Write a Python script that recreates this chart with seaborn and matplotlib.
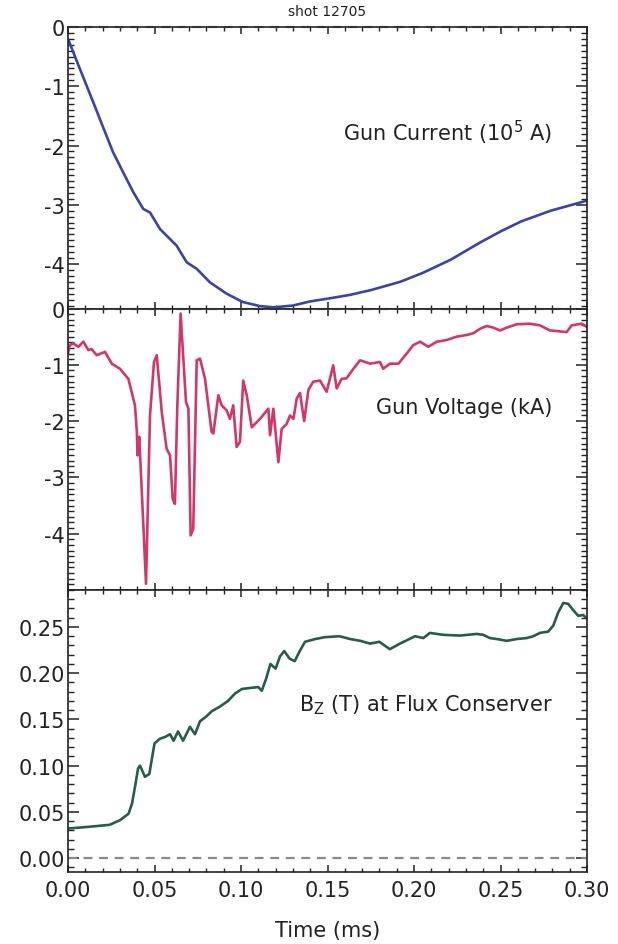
import matplotlib
matplotlib.use("Agg")
import matplotlib.pyplot as plt
from matplotlib.ticker import MultipleLocator, FixedLocator, FormatStrFormatter
import seaborn as sns

# ---- shot 12705 signals (time in ms) ----
current_t = [0.000, 0.005, 0.0146, 0.020, 0.026, 0.032, 0.0378, 0.0435, 0.0474,
             0.0532, 0.058, 0.0628, 0.0686, 0.0744, 0.0821, 0.0917, 0.101, 0.111,
             0.1187, 0.130, 0.140, 0.151, 0.163, 0.175, 0.192, 0.205, 0.221,
             0.238, 0.250, 0.262, 0.279, 0.300]
current_v = [-0.20, -0.57, -1.27, -1.67, -2.11, -2.46, -2.79, -3.07, -3.13,
             -3.41, -3.55, -3.69, -3.97, -4.08, -4.31, -4.50, -4.64, -4.71,
             -4.73, -4.70, -4.63, -4.58, -4.52, -4.44, -4.30, -4.15, -3.93,
             -3.64, -3.45, -3.28, -3.10, -2.93]

voltage_t = [0.0000, 0.0010, 0.0030, 0.0060, 0.0089, 0.0118, 0.0136, 0.0166,
             0.0214, 0.0253, 0.0300, 0.0349, 0.0387, 0.0398, 0.0402, 0.0412,
             0.0451, 0.0474, 0.0497, 0.0513, 0.0542, 0.0570, 0.0590, 0.0605,
             0.0618, 0.0632, 0.0651, 0.0682, 0.0696, 0.0709, 0.0724, 0.0744,
             0.0763, 0.0792, 0.0830, 0.0840, 0.0869, 0.0888, 0.0917, 0.0936,
             0.0955, 0.0975, 0.0994, 0.1013, 0.1033, 0.1062, 0.1091, 0.1110,
             0.1158, 0.1168, 0.1187, 0.1216, 0.1235, 0.1264, 0.1283, 0.1303,
             0.1322, 0.1341, 0.1365, 0.1390, 0.1418, 0.1457, 0.1495, 0.1533,
             0.1553, 0.1582, 0.1610, 0.1650, 0.1688, 0.1746, 0.1803, 0.1822,
             0.1861, 0.1910, 0.1958, 0.1996, 0.2035, 0.2083, 0.2131, 0.2189,
             0.2247, 0.2305, 0.2343, 0.2382, 0.2420, 0.2459, 0.2497, 0.2536,
             0.2594, 0.2670, 0.2728, 0.2786, 0.2825, 0.2882, 0.2911, 0.2969,
             0.3000]
voltage_v = [-0.80, -0.65, -0.62, -0.68, -0.59, -0.74, -0.72, -0.83,
             -0.77, -0.98, -1.07, -1.25, -1.72, -2.19, -2.61, -2.28,
             -4.89, -1.90, -0.95, -0.83, -1.84, -2.49, -2.61, -3.38,
             -3.47, -1.72, -0.09, -1.66, -1.78, -4.03, -3.91, -0.92,
             -0.89, -1.25, -2.19, -2.22, -1.54, -1.72, -1.81, -1.96,
             -1.72, -2.46, -2.37, -1.28, -1.54, -2.11, -2.02, -1.96,
             -1.78, -2.25, -1.78, -2.73, -2.14, -2.05, -1.90, -1.96,
             -1.60, -1.50, -2.00, -1.44, -1.30, -1.28, -1.48, -1.01,
             -1.42, -1.25, -1.24, -1.07, -0.92, -0.98, -0.95, -1.07,
             -0.98, -0.98, -0.80, -0.65, -0.59, -0.68, -0.59, -0.56,
             -0.50, -0.47, -0.44, -0.36, -0.31, -0.34, -0.39, -0.34,
             -0.28, -0.27, -0.30, -0.39, -0.40, -0.42, -0.30, -0.27,
             -0.33]

bz_t = [0.000, 0.0127, 0.024, 0.030, 0.035, 0.037, 0.039, 0.0405, 0.0416,
        0.0445, 0.047, 0.050, 0.053, 0.056, 0.059, 0.061, 0.0636, 0.0665,
        0.0705, 0.0734, 0.0763, 0.0798, 0.0832, 0.0879, 0.0925, 0.0965,
        0.1006, 0.105, 0.110, 0.112, 0.1145, 0.117, 0.120, 0.1225, 0.125,
        0.128, 0.131, 0.134, 0.137, 0.143, 0.1486, 0.157, 0.163, 0.169,
        0.1746, 0.180, 0.186, 0.1919, 0.2006, 0.2054, 0.2092, 0.2169,
        0.2266, 0.2362, 0.2400, 0.2439, 0.2478, 0.2536, 0.2594, 0.2651,
        0.2690, 0.2728, 0.2776, 0.2805, 0.2834, 0.2863, 0.2892, 0.2921,
        0.2950, 0.2978, 0.3000]
bz_v = [0.032, 0.034, 0.036, 0.041, 0.048, 0.059, 0.080, 0.097, 0.100,
        0.088, 0.091, 0.124, 0.129, 0.131, 0.134, 0.127, 0.137, 0.127,
        0.142, 0.134, 0.148, 0.153, 0.159, 0.164, 0.170, 0.178,
        0.183, 0.184, 0.185, 0.181, 0.194, 0.210, 0.205, 0.218, 0.224,
        0.216, 0.213, 0.224, 0.234, 0.237, 0.239, 0.240, 0.237, 0.235,
        0.232, 0.234, 0.226, 0.232, 0.240, 0.238, 0.2436, 0.2415,
        0.2407, 0.2425, 0.2415, 0.238, 0.237, 0.235, 0.237, 0.238,
        0.240, 0.2436, 0.245, 0.2515, 0.266, 0.276, 0.275, 0.268,
        0.262, 0.263, 0.259]

x_ticks = [0.00, 0.05, 0.10, 0.15, 0.20, 0.25, 0.30]
int_ticks = [0, -1, -2, -3, -4]
bz_ticks = [0.00, 0.05, 0.10, 0.15, 0.20, 0.25]

sns.set_style("ticks")
plt.rcParams["font.family"] = ["DejaVu Sans"]
plt.rcParams["axes.unicode_minus"] = False

W, H = 618, 945
fig = plt.figure(figsize=(W / 100, H / 100), dpi=100)

left, right = 68, 587
panels = [(28, 309.5), (309.5, 591), (591, 873)]


def make_axes(top, bottom):
    return fig.add_axes([left / W, 1 - bottom / H, (right - left) / W, (bottom - top) / H])


ax1 = make_axes(*panels[0])
ax2 = make_axes(*panels[1])
ax3 = make_axes(*panels[2])

blue = "#3b449f"
pink = "#d1386a"
green = "#275c48"
LW = 1.9

sns.lineplot(x=current_t, y=current_v, ax=ax1, color=blue, lw=LW,
             estimator=None, sort=False)
sns.lineplot(x=voltage_t, y=voltage_v, ax=ax2, color=pink, lw=LW,
             estimator=None, sort=False)
sns.lineplot(x=bz_t, y=bz_v, ax=ax3, color=green, lw=LW,
             estimator=None, sort=False)

for ax in (ax1, ax2, ax3):
    ax.axhline(0, color="#8a8a8a", lw=1.6, ls=(0, (4, 3)), zorder=1, clip_on=False)
    ax.set_xlim(0, 0.30)
    ax.xaxis.set_major_locator(FixedLocator(x_ticks))
    ax.xaxis.set_minor_locator(MultipleLocator(0.01))
    ax.tick_params(axis="both", which="both", direction="in",
                   top=True, bottom=True, left=True, right=True,
                   color="#222222", labelsize=15, labelcolor="#222222", pad=2)
    ax.tick_params(axis="x", which="major", length=5, width=1.1)
    ax.tick_params(axis="x", which="minor", length=3, width=1.0)
    ax.tick_params(axis="y", which="major", length=8, width=1.1)
    ax.tick_params(axis="y", which="minor", length=4, width=1.0)
    for s in ax.spines.values():
        s.set_linewidth(1.2)
        s.set_color("#222222")
    ax.set_xlabel("")
    ax.set_ylabel("")

ax1.set_ylim(-4.75, 0)
ax2.set_ylim(-5.0, 0)
for ax in (ax1, ax2):
    ax.yaxis.set_major_locator(FixedLocator(int_ticks))
    ax.yaxis.set_minor_locator(MultipleLocator(0.1))
    ax.yaxis.set_major_formatter(FormatStrFormatter("%d"))
    ax.tick_params(axis="x", labelbottom=False)

ax3.set_ylim(-0.015, 0.29)
ax3.yaxis.set_major_locator(FixedLocator(bz_ticks))
ax3.yaxis.set_minor_locator(MultipleLocator(0.01))
ax3.yaxis.set_major_formatter(FormatStrFormatter("%.2f"))
ax3.xaxis.set_major_formatter(FormatStrFormatter("%.2f"))
ax3.tick_params(axis="x", which="major", pad=6)

txt = dict(fontsize=15, color="#222222", ha="right", va="center")
ax1.text(0.28, -1.77, r"Gun Current (10$^{5}$ A)", **txt)
ax2.text(0.28, -1.75, "Gun Voltage (kA)", **txt)
ax3.text(0.28, 0.167, r"B$_\mathregular{Z}$ (T) at Flux Conserver", **txt)

ax3.set_xlabel("Time (ms)", fontsize=15, color="#222222", labelpad=14)
fig.text((left + right) / 2 / W, 1 - 12 / H, "shot 12705", ha="center",
         va="center", fontsize=10, color="#222222")

fig.savefig("out.png", dpi=100)
